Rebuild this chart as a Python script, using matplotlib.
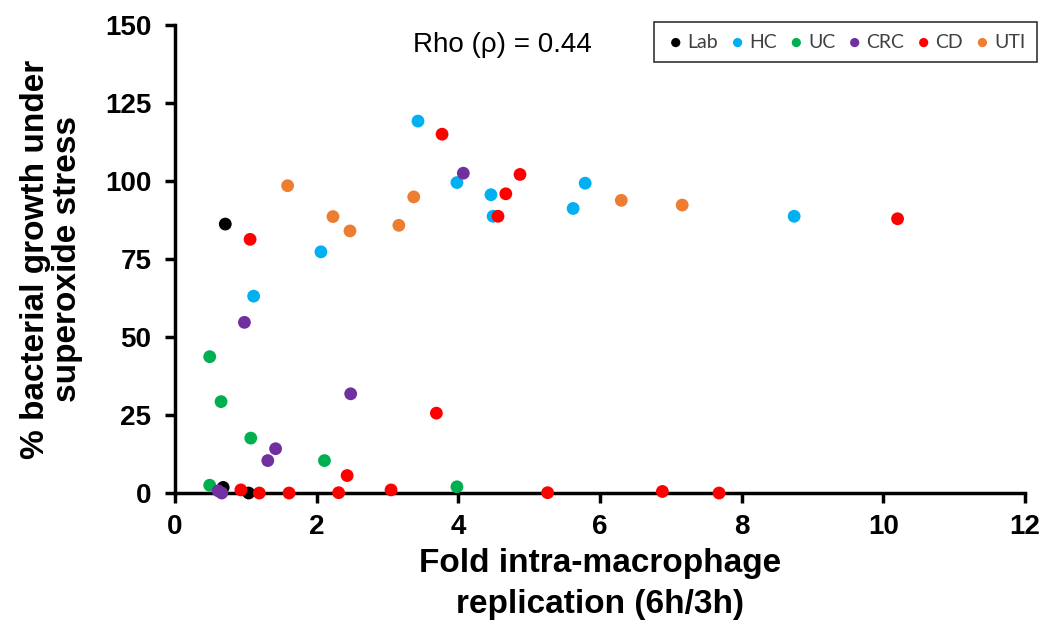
import matplotlib
matplotlib.use("Agg")
import matplotlib.pyplot as plt

# Data
lab_x = [0.71, 0.68, 1.04]
lab_y = [86.2, 1.8, 0.0]

hc_x = [3.43, 3.98, 4.46, 4.49, 5.79, 5.62, 8.74, 2.06, 1.11]
hc_y = [119.2, 99.5, 95.6, 88.7, 99.3, 91.2, 88.7, 77.3, 63.1]

uc_x = [0.49, 0.65, 1.07, 2.11, 0.49, 3.98]
uc_y = [43.7, 29.3, 17.6, 10.4, 2.5, 2.0]

crc_x = [4.07, 0.98, 2.48, 1.42, 1.31, 0.61, 0.66]
crc_y = [102.5, 54.7, 31.8, 14.2, 10.4, 0.7, 0.0]

cd_x = [3.77, 4.87, 4.67, 4.56, 10.20, 1.06, 3.69, 2.43, 0.93, 1.19, 1.61,
        2.31, 3.05, 5.26, 6.88, 7.68]
cd_y = [115.0, 102.1, 95.9, 88.7, 87.9, 81.3, 25.6, 5.6, 1.0, 0.0, 0.0,
        0.1, 1.0, 0.1, 0.5, 0.0]

uti_x = [1.59, 2.23, 2.47, 3.16, 3.37, 6.30, 7.16]
uti_y = [98.5, 88.6, 84.0, 85.8, 94.9, 93.8, 92.3]

groups = ["Lab", "HC", "UC", "CRC", "CD", "UTI"]
colors = ["#000000", "#00B0F0", "#00B050", "#7030A0", "#FF0000", "#ED7D31"]
xs = [lab_x, hc_x, uc_x, crc_x, cd_x, uti_x]
ys = [lab_y, hc_y, uc_y, crc_y, cd_y, uti_y]

x_ticks = [0, 2, 4, 6, 8, 10, 12]
y_ticks = [0, 25, 50, 75, 100, 125, 150]
rho_text = "Rho (\u03c1) = 0.44"

plt.rcParams['font.family'] = ['Liberation Sans', 'DejaVu Sans']

fig = plt.figure(figsize=(10.46, 6.36), dpi=100)
ax = fig.add_axes([0.1673, 0.2248, 0.8127, 0.7359])

for g, c, x, y in zip(groups, colors, xs, ys):
    ax.scatter(x, y, s=85, color=c, edgecolors='none', label=g, zorder=3,
               clip_on=False)

ax.set_xlim(0, 12)
ax.set_ylim(0, 150)
ax.set_xticks(x_ticks)
ax.set_yticks(y_ticks)
ax.set_xticklabels([str(t) for t in x_ticks], fontsize=20, fontweight='bold')
ax.set_yticklabels([str(t) for t in y_ticks], fontsize=20, fontweight='bold')

for side in ['top', 'right']:
    ax.spines[side].set_visible(False)
for side in ['left', 'bottom']:
    ax.spines[side].set_linewidth(2.5)
ax.tick_params(axis='y', direction='out', length=7, width=2.5, pad=10)
ax.tick_params(axis='x', direction='out', length=7, width=2.5, pad=8)

ax.set_xlabel("Fold intra-macrophage\nreplication (6h/3h)", fontsize=24,
              fontweight='bold', labelpad=6, linespacing=1.4)
ax.set_ylabel("% bacterial growth under\nsuperoxide stress", fontsize=24,
              fontweight='bold', labelpad=16, linespacing=1.05)

ax.text(4.62, 143.5, rho_text, fontsize=20, ha='center', va='center')

leg = fig.legend(loc='upper right', bbox_to_anchor=(1037 / 1046, 1 - 22 / 636),
                 ncol=6, frameon=True, fancybox=False,
                 prop={'family': 'Lato', 'size': 14},
                 handletextpad=0.1, columnspacing=0.5, markerscale=0.72,
                 borderpad=0.6, handlelength=1.0, borderaxespad=0)
leg.get_frame().set_edgecolor('#000000')
leg.get_frame().set_linewidth(1.2)
for t in leg.get_texts():
    t.set_color('#404040')

fig.savefig("out.png", dpi=100)
